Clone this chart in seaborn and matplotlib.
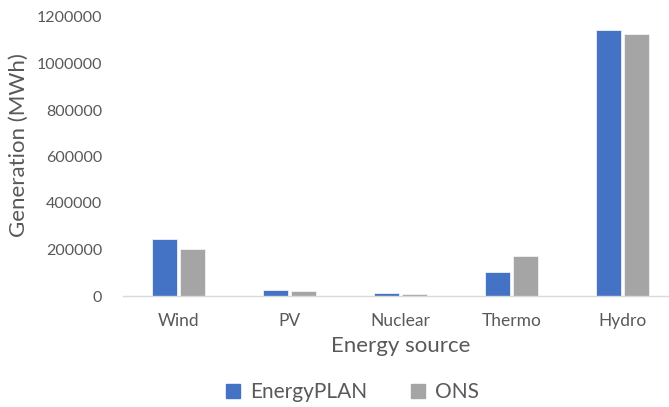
import matplotlib
matplotlib.use("Agg")
import matplotlib.pyplot as plt
from matplotlib.ticker import FixedLocator
import seaborn as sns
import pandas as pd

sources = ["Wind", "PV", "Nuclear", "Thermo", "Hydro"]
energyplan = [244000, 24000, 11000, 103000, 1145000]
ons = [202000, 22000, 10000, 171000, 1125000]
series_names = ["EnergyPLAN", "ONS"]
colors = ["#4472C4", "#A5A5A5"]
yticks = [0, 200000, 400000, 600000, 800000, 1000000, 1200000]

df = pd.DataFrame({
    "source": sources * 2,
    "value": energyplan + ons,
    "series": [series_names[0]] * len(sources) + [series_names[1]] * len(sources),
})

sns.set_theme(style="white")
plt.rcParams["font.family"] = ["Lato", "DejaVu Sans"]
text_color = "#595959"

fig = plt.figure(figsize=(6.69, 4.07), dpi=100)
ax = fig.add_axes([123 / 669, 1 - 296 / 407, 555 / 669, (296 - 17) / 407])

sns.barplot(data=df, x="source", y="value", hue="series", order=sources,
            hue_order=series_names, palette=colors, saturation=1,
            width=0.505, gap=0.1, edgecolor="#eef2fa", linewidth=0.6,
            ax=ax, legend=False)

ax.set_ylim(0, 1200000)
ax.set_xlim(-0.5, len(sources) - 0.5)
ax.set_yticks(yticks)
ax.set_yticklabels([str(v) for v in yticks])
ax.tick_params(axis="y", length=0, pad=15, labelsize=11.5, labelcolor=text_color)
ax.tick_params(axis="x", which="major", length=0, pad=12, labelsize=12.5,
               labelcolor=text_color)
ax.xaxis.set_minor_locator(FixedLocator([i - 0.5 for i in range(len(sources) + 1)]))
ax.tick_params(axis="x", which="minor", length=6, width=1, color="#d9d9d9",
               direction="out")

for side in ["top", "right", "left"]:
    ax.spines[side].set_visible(False)
ax.spines["bottom"].set_color("#d9d9d9")
ax.spines["bottom"].set_linewidth(1)

ax.set_xlabel("Energy source", fontsize=16, color=text_color, labelpad=5)
ax.set_ylabel("Generation (MWh)", fontsize=16, color=text_color, labelpad=6)
ax.yaxis.set_label_coords(-0.17, 0.54)
ax.grid(False)

handles = [plt.Line2D([], [], marker="s", linestyle="none", markersize=9.5,
                      markerfacecolor=c, markeredgecolor=c) for c in colors]
fig.legend(handles, series_names, loc="center", bbox_to_anchor=(0.525, 1 - 392 / 407),
           ncol=2, frameon=False, fontsize=15, labelcolor=text_color,
           handletextpad=0.35, columnspacing=2.0, handlelength=0.9)

fig.savefig("out.png", dpi=100)
